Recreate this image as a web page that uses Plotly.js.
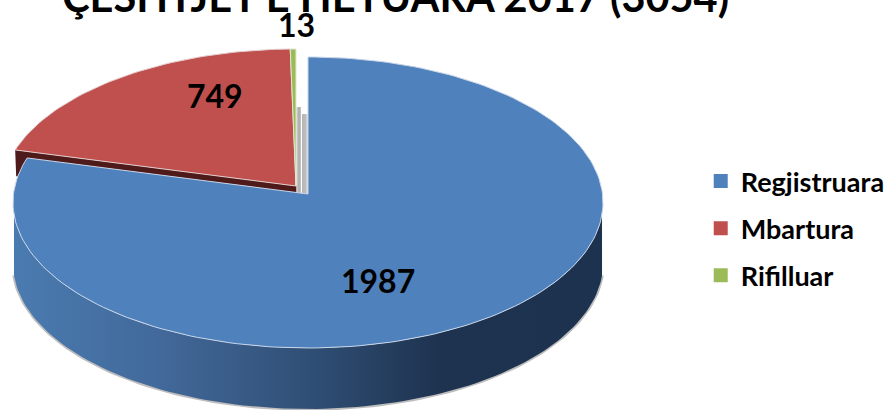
<!DOCTYPE html>
<html><head><meta charset="utf-8">
<script src="https://cdn.plot.ly/plotly-3.0.1.min.js"></script>
<style>html,body{margin:0;padding:0;background:#fff;overflow:hidden}#c{width:887px;height:410px}</style>
</head><body><div id="c"></div>
<script>
const categories = ['Regjistruara', 'Mbartura', 'Rifilluar'];
const labelValues = [1987, 749, 13];
const drawnSharePercent = [79.06, 20.61, 0.33];
const colors = ['#4f81bd', '#c0504d', '#9bbb59'];
const titleText = 'ÇESHTJET E HETUARA 2017 (3054)';

const f = 294.5, g = 145, k = 0.0584, depth = 61;
const apex = [[308, 194], [296, 186], [296, 186]];
const FONT = 'Lato, "Open Sans", sans-serif';

function proj(deg, a, dy) {
  const t = deg * Math.PI / 180, u = Math.sin(t), v = Math.cos(t), w = 1 + k * v;
  return [a[0] + f * u / w, a[1] - g * v / w + (dy || 0)];
}
function arc(d0, d1, a, dy) {
  const n = Math.max(2, Math.ceil(Math.abs(d1 - d0) / 1.5)), p = [];
  for (let i = 0; i <= n; i++) p.push(proj(d0 + (d1 - d0) * i / n, a, dy));
  return p;
}
const poly = (pts, o) => Object.assign({
  x: pts.map(p => p[0]), y: pts.map(p => p[1]), type: 'scatter', mode: 'lines', fill: 'toself',
  showlegend: false, hoverinfo: 'skip', line: {width: 0}
}, o);

let cum = 0;
const angles = drawnSharePercent.map(s => { const a = [cum * 3.6, (cum + s) * 3.6]; cum += s; return a; });

const traces = [];
// soft shadow edge + side wall of the large slice
const lower = arc(262, 98, apex[0], depth);
traces.push(poly(lower, {fill: 'none', line: {color: '#bdbdbd', width: 3.5}}));
const wall = lower.concat(arc(98, 262, apex[0]));
traces.push(poly(wall, {
  fillgradient: {type: 'horizontal', start: 13, stop: 603,
    colorscale: [[0, '#4a7bb0'], [0.25, '#42699a'], [0.5, '#304f76'], [0.72, '#1e3350'], [1, '#1d324e']]},
  fillcolor: '#304f76'
}));
// inner cut faces
traces.push(poly([[296, 107], [301, 107], [301, 193], [296, 193]], {
  fillgradient: {type: 'horizontal', start: 296, stop: 302, colorscale: [[0, '#e4e4e4'], [0.5, '#a9a9a9'], [1, '#d8d8d8']]}, fillcolor: '#bbb'}));
traces.push(poly([[302, 114], [308, 114], [308, 194], [302, 193]], {
  fillgradient: {type: 'horizontal', start: 302, stop: 308, colorscale: [[0, '#b5b5b5'], [0.6, '#bdbdbd'], [1, '#efefef']]}, fillcolor: '#bbb'}));
// dark cut face of the red slice
const rc = proj(angles[1][0], apex[1]);
traces.push(poly([rc, apex[1], [apex[1][0], apex[1][1] + 8], [rc[0] + 1, rc[1] + 26]], {fillcolor: '#4f1b1a', line: {color: '#4f1b1a', width: 0.5}}));
// tops
const edge = ['#c9d6e8', '#e3cfcf', '#dfe8cf'];
categories.forEach((c, i) => {
  const pts = [apex[i]].concat(arc(angles[i][0], angles[i][1], apex[i]), [apex[i]]);
  traces.push(poly(pts, {fillcolor: colors[i], line: {color: edge[i], width: 1}}));
});
// legend entries
categories.forEach((c, i) => traces.push({
  x: [null], y: [null], type: 'scatter', mode: 'markers', name: '<b>' + c + '</b>', legendgroup: c,
  marker: {symbol: 'square', size: 14, color: colors[i]}, hoverinfo: 'skip'
}));

const labelPos = [[378, 280.5], [215, 95.5], [296, 24.5]];
const annotations = labelValues.map((v, i) => ({
  x: labelPos[i][0], y: labelPos[i][1], xref: 'x', yref: 'y', text: '<b>' + v + '</b>', showarrow: false,
  font: {family: FONT, size: 32, color: '#000'}, xanchor: 'center', yanchor: 'middle'
}));

Plotly.newPlot('c', traces, {
  width: 887, height: 410,
  margin: {l: 0, r: 0, t: 0, b: 0, autoexpand: false}, paper_bgcolor: '#fff', plot_bgcolor: '#fff',
  xaxis: {range: [0, 887], visible: false, fixedrange: true},
  yaxis: {range: [410, 0], visible: false, fixedrange: true},
  title: {text: '<b>' + titleText + '</b>', font: {family: FONT, size: 41.5, color: '#000'},
    xref: 'paper', x: 0.446, xanchor: 'center', yref: 'paper', y: 0.97, yanchor: 'bottom'},
  legend: {x: 0.79, y: 0.617, xanchor: 'left', yanchor: 'top', font: {family: FONT, size: 27, color: '#000'},
    bgcolor: 'rgba(0,0,0,0)', tracegroupgap: 9, itemwidth: 30, traceorder: 'grouped'},
  annotations, showlegend: true
}, {displayModeBar: false, staticPlot: true});
</script></body></html>
